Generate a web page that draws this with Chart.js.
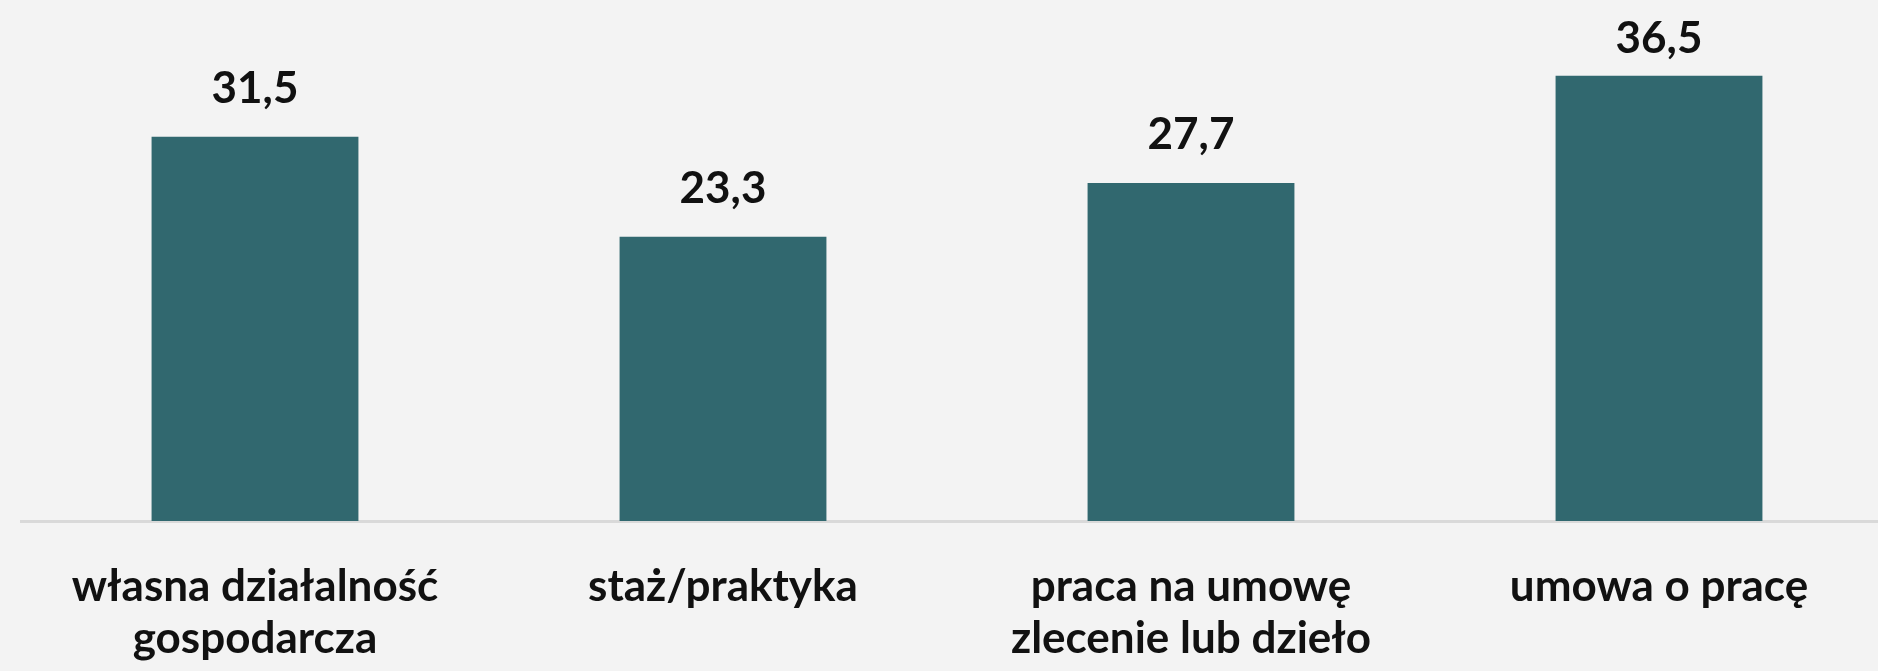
<!DOCTYPE html>
<html>
<head>
<meta charset="utf-8">
<script src="https://cdn.jsdelivr.net/npm/chart.js@4"></script>
<style>
    html, body { margin: 0; padding: 0; background: #f3f3f3; overflow: hidden; }
    #wrap { width: 1878px; height: 671px; overflow: hidden; }
</style>
</head>
<body>
<div id="wrap"><canvas id="barChart" width="1893" height="671"></canvas></div>
<script>
const categories = [
    ['własna działalność', 'gospodarcza'],
    ['staż/praktyka'],
    ['praca na umowę', 'zlecenie lub dzieło'],
    ['umowa o pracę']
];
const values = [31.5, 23.3, 27.7, 36.5];

document.addEventListener('DOMContentLoaded', function() {
    // value labels above bars, Polish decimal comma, kept inside the top edge like Excel does
    const valueLabels = {
        id: 'valueLabels',
        afterDatasetsDraw: function(chart) {
            const ctx = chart.ctx;
            const meta = chart.getDatasetMeta(0);
            ctx.save();
            ctx.font = 'bold 44px Lato';
            ctx.fillStyle = '#111111';
            ctx.textAlign = 'center';
            ctx.textBaseline = 'alphabetic';
            meta.data.forEach(function(bar, i) {
                const txt = values[i].toFixed(1).replace('.', ',');
                ctx.fillText(txt, bar.x, Math.max(bar.y - 34, 53));
            });
            ctx.restore();
        }
    };

    const ctx = document.getElementById('barChart').getContext('2d');
    new Chart(ctx, {
        type: 'bar',
        data: {
            labels: categories,
            datasets: [{
                data: values,
                backgroundColor: '#31686f',
                borderWidth: 0,
                categoryPercentage: 1,
                barPercentage: 0.442
            }]
        },
        options: {
            responsive: false,
            animation: false,
            layout: {
                padding: { left: 21, right: 0, top: 0, bottom: 0 }
            },
            plugins: {
                legend: { display: false },
                tooltip: { enabled: false }
            },
            scales: {
                y: {
                    display: false,
                    min: 0,
                    max: 42.7
                },
                x: {
                    afterFit: function(scale) {
                        scale.height = 150;
                    },
                    grid: { display: false, drawTicks: false },
                    border: { display: true, color: '#d9d9d9', width: 3 },
                    ticks: {
                        autoSkip: false,
                        maxRotation: 0,
                        minRotation: 0,
                        padding: 40,
                        color: '#111111',
                        font: { family: 'Lato', weight: 'bold', size: 44, lineHeight: '52px' }
                    }
                }
            }
        },
        plugins: [valueLabels]
    });
});
</script>
</body>
</html>
